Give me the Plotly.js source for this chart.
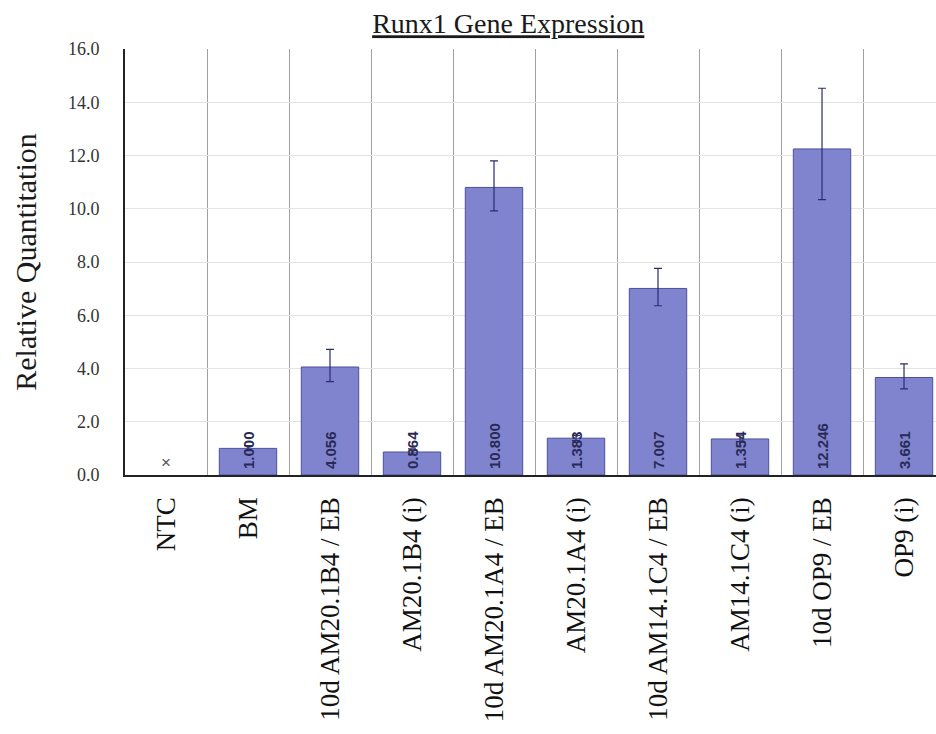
<!DOCTYPE html>
<html>
<head>
<meta charset="utf-8">
<script src="https://cdn.plot.ly/plotly-3.0.1.min.js"></script>
<style>
  html, body { margin: 0; padding: 0; background: #ffffff; }
  #chart { width: 936px; height: 734px; }
</style>
</head>
<body>
<div id="chart"></div>
<script>
// Sample names along the category axis
const categories = [
  'NTC', 'BM', '10d AM20.1B4 / EB', 'AM20.1B4 (i)', '10d AM20.1A4 / EB',
  'AM20.1A4 (i)', '10d AM14.1C4 / EB', 'AM14.1C4 (i)', '10d OP9 / EB', 'OP9 (i)'
];

// Relative quantitation (RQ); NTC is undetermined
const rq = [null, 1.000, 4.056, 0.864, 10.800, 1.383, 7.007, 1.354, 12.246, 3.661];

// Asymmetric RQ error range (RQmax - RQ, RQ - RQmin)
const errPlus  = [0, 0.10, 0.66, 0.12, 1.00, 0.10, 0.75, 0.12, 2.28, 0.51];
const errMinus = [0, 0.09, 0.55, 0.10, 0.88, 0.09, 0.65, 0.10, 1.90, 0.43];

// Value axis ticks
const yTicks = [0, 2, 4, 6, 8, 10, 12, 14, 16];

const serif = 'Liberation Serif, Times New Roman, serif';
const sans = 'Liberation Sans, Arial, sans-serif';

const bars = {
  type: 'bar',
  x: categories,
  y: rq,
  width: 0.7,
  marker: { color: '#8084cf', line: { color: '#4b4f9c', width: 1 } },
  error_y: {
    type: 'data', symmetric: false,
    array: errPlus, arrayminus: errMinus,
    color: '#2a2d70', thickness: 1.2, width: 4
  },
  hoverinfo: 'x+y'
};

// Value labels: rotated, sitting on the base of each bar
const annotations = categories.map((c, i) => {
  const v = rq[i];
  if (v === null) {
    return {
      x: c, y: 0, xref: 'x', yref: 'y', text: '×', showarrow: false,
      yanchor: 'bottom', yshift: 1,
      font: { family: sans, size: 17, color: '#555555' }
    };
  }
  return {
    x: c, y: 0, xref: 'x', yref: 'y', text: v.toFixed(3), showarrow: false,
    textangle: -90, yanchor: 'bottom', yshift: 4,
    font: { family: sans, size: 15, weight: 'bold', color: '#2a2a55' }
  };
});

const layout = {
  width: 936, height: 734,
  margin: { l: 125, r: 0, t: 49, b: 259 },
  paper_bgcolor: '#ffffff', plot_bgcolor: '#ffffff',
  showlegend: false,
  title: {
    text: '<u>Runx1 Gene Expression</u>',
    x: 0.543, xref: 'container', xanchor: 'center',
    y: 0.968, yref: 'container', yanchor: 'middle',
    font: { family: serif, size: 28, color: '#1a1a1a' }
  },
  xaxis: {
    type: 'category',
    range: [-0.5, 9.39],
    tickson: 'boundaries',
    showgrid: true, gridcolor: '#a0a0a0', gridwidth: 1,
    showline: true, linecolor: '#222222', linewidth: 1.5,
    ticks: '', tickangle: -90,
    ticklabelstandoff: 10,
    tickfont: { family: serif, size: 27, color: '#111111' }
  },
  yaxis: {
    range: [0, 16],
    tickvals: yTicks,
    ticktext: yTicks.map(t => t.toFixed(1)),
    showgrid: true, gridcolor: '#e4e4e4', gridwidth: 1,
    zeroline: false,
    showline: true, linecolor: '#222222', linewidth: 1.8,
    ticks: '',
    ticklabelstandoff: 20,
    tickfont: { family: serif, size: 18, color: '#333333' },
    title: {
      text: 'Relative Quantitation',
      standoff: 22,
      font: { family: serif, size: 30, color: '#1a1a1a' }
    }
  },
  annotations: annotations
};

Plotly.newPlot('chart', [bars], layout, { displayModeBar: false, staticPlot: true });
</script>
</body>
</html>
